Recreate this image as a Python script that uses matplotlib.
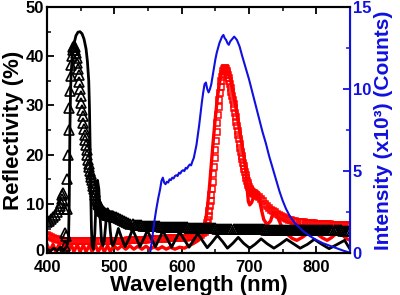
import numpy as np
import matplotlib
matplotlib.use("Agg")
import matplotlib.pyplot as plt
import matplotlib.transforms as mtransforms
from matplotlib.ticker import MultipleLocator

plt.rcParams['font.family'] = ['Liberation Sans', 'DejaVu Sans']
plt.rcParams['font.weight'] = 'bold'

# ---------------- data ----------------
# black open triangles (measured reflectivity, %)
wl_tri = np.concatenate([np.arange(400, 419, 3), np.arange(420, 501, 1), np.arange(503, 851, 3)])
refl_tri = [
    6.4, 6.6, 6.9, 7.3, 7.8, 8.4, 9.0,
    9.5, 10.2, 11.0, 11.8, 12.2, 9.0, 4.0, 1.5, 3.5, 9.0,
    15.0, 20.0, 25.0, 29.5, 33.0, 36.0, 38.3, 40.0, 41.2, 41.8,
    42.0, 41.8, 41.3, 40.6, 39.7, 38.6, 37.4, 36.1, 34.7, 33.3,
    31.9, 30.5, 29.1, 27.8, 26.5, 25.3, 24.1, 23.0, 22.0, 21.0,
    20.0, 19.0, 18.2, 17.4, 16.7, 16.0, 15.4, 14.8, 14.2, 13.6,
    13.0, 12.4, 11.8, 11.3, 10.8, 10.4, 10.0, 9.7, 9.4, 9.2,
    9.0, 8.8, 8.6, 8.5, 8.3, 8.2, 8.1, 8.0, 7.9, 7.8,
    7.8, 7.7, 7.7, 7.6, 7.6, 7.6, 7.5, 7.5, 7.5, 7.4, 7.4,
    7.4, 7.2, 7.0, 6.8, 6.6, 6.4, 6.2, 6.0, 5.9, 5.8,
    5.75, 5.7, 5.65, 5.6, 5.6, 5.55, 5.55, 5.5, 5.5, 5.5,
    5.45, 5.45, 5.4, 5.4, 5.4, 5.4, 5.35, 5.35, 5.35, 5.3,
    5.3, 5.3, 5.3, 5.25, 5.25, 5.25, 5.2, 5.2, 5.2, 5.2,
    5.15, 5.15, 5.15, 5.1, 5.1, 5.1, 5.1, 5.05, 5.05, 5.05,
    5.0, 5.0, 5.0, 5.0, 4.95, 4.95, 4.95, 4.95, 4.9, 4.9,
    4.9, 4.9, 4.9, 4.85, 4.85, 4.85, 4.85, 4.85, 4.8, 4.8,
    4.8, 4.8, 4.8, 4.8, 4.75, 4.75, 4.75, 4.75, 4.75, 4.75,
    4.7, 4.7, 4.7, 4.7, 4.7, 4.7, 4.7, 4.7, 4.7, 4.7,
    4.7, 4.7, 4.7, 4.65, 4.65, 4.65, 4.65, 4.65, 4.65, 4.65,
    4.6, 4.6, 4.6, 4.6, 4.6, 4.6, 4.6, 4.6, 4.6, 4.6,
    4.6, 4.6, 4.55, 4.55, 4.55, 4.55,
]

# black solid line (simulated reflectivity, %)
wl_sim_blue = [400, 405, 410, 415, 420, 425, 430, 432, 433, 434, 435, 436, 438, 440, 443, 446, 449,
               452, 455, 458, 460, 462, 463, 464, 465, 466, 467, 469, 471, 473, 475, 477, 479,
               481, 483, 485, 488, 490, 492, 494, 496, 498, 502, 506, 511, 516, 522, 527, 533,
               538, 544, 549, 555, 561, 567, 572, 579, 585, 591, 597, 604, 611, 617, 624, 631,
               638, 645, 653, 661, 668, 676, 684, 692, 701, 709, 718, 727, 737, 746, 756, 766,
               776, 787, 797, 808, 819, 830, 842, 850]
refl_sim_blue = [0.8, 0.4, 1.0, 0.5, 1.2, 0.6, 1.5, 3.0, 10.0, 25.0, 33.0, 37.0, 40.5, 42.5, 44.2, 44.9, 45.0,
                 44.6, 43.5, 41.5, 39.0, 35.0, 30.0, 22.0, 12.0, 5.0, 1.5, 0.8, 4.0, 11.0, 14.8, 13.0, 7.0,
                 2.5, 1.5, 2.5, 7.0, 9.0, 8.0, 4.5, 2.0, 1.5, 3.0, 5.0, 3.0, 1.3, 3.0, 4.8, 3.0,
                 1.3, 3.0, 4.6, 2.9, 1.3, 3.0, 4.5, 2.8, 1.2, 2.8, 4.3, 2.7, 1.2, 2.5, 4.0, 2.5,
                 1.1, 2.2, 3.6, 2.3, 1.0, 2.0, 3.2, 2.0, 1.0, 1.8, 2.9, 1.9, 1.0, 1.8, 2.8, 1.9,
                 1.0, 1.8, 2.8, 1.8, 0.9, 1.7, 2.6, 0.8]

# red open squares (measured reflectivity, %)
wl_sq = np.concatenate([np.arange(400, 635, 3), np.arange(635, 713, 1), np.arange(715, 851, 3)])
refl_sq = [
    3.6, 3.4, 3.2, 3.0, 2.9, 2.8, 2.7, 2.6, 2.55, 2.5,
    2.4, 2.4, 2.4, 2.4, 2.4, 2.4, 2.4, 2.4, 2.4, 2.4,
    2.4, 2.4, 2.4, 2.4, 2.4, 2.4, 2.4, 2.4, 2.4, 2.4,
    2.5, 2.5, 2.5, 2.5, 2.5, 2.5, 2.5, 2.5, 2.5, 2.5,
    2.7, 2.7, 2.7, 2.7, 2.7, 2.7, 2.7, 2.7, 2.7, 2.7,
    2.9, 2.9, 2.9, 2.9, 2.9, 2.9, 2.9, 2.9, 2.9, 2.9,
    3.1, 3.1, 3.1, 3.1, 3.1, 3.1, 3.1, 3.1, 3.1, 3.1,
    3.2, 3.2, 3.3, 3.3, 3.4, 3.5, 3.7, 4.0, 4.3,
    4.6, 5.0, 5.5, 6.1, 6.8, 7.6, 8.5, 9.5, 10.6, 11.8,
    13.1, 14.5, 16.0, 17.6, 19.3, 21.0, 22.8, 24.6, 26.4, 28.1,
    29.7, 31.2, 32.6, 33.8, 34.9, 35.8, 36.5, 37.0, 37.4, 37.6,
    37.6, 37.4, 37.1, 36.7, 36.2, 35.6, 35.0, 34.3, 33.6, 32.8,
    32.0, 31.2, 30.3, 29.4, 28.5, 27.6, 26.7, 25.8, 24.9, 24.0,
    23.1, 22.2, 21.4, 20.6, 19.8, 19.1, 18.4, 17.7, 17.0, 16.4,
    15.8, 15.2, 14.7, 14.2, 13.8, 13.4, 13.1, 12.8, 12.6, 12.4,
    12.3, 12.2, 12.2, 12.1, 12.0, 11.9, 11.8, 11.6,
    11.4, 11.0, 10.5, 10.0, 9.5, 9.1, 8.8, 8.5, 8.3, 8.0,
    7.8, 7.5, 7.3, 7.1, 6.9, 6.8, 6.7, 6.6, 6.5, 6.4,
    6.35, 6.3, 6.25, 6.2, 6.15, 6.1, 6.1, 6.05, 6.0, 6.0,
    5.95, 5.95, 5.9, 5.9, 5.85, 5.85, 5.8, 5.8, 5.75, 5.75,
    5.7, 5.7, 5.7, 5.65, 5.65, 5.6,
]

# red solid line (simulated reflectivity, %)
wl_sim_red = [400, 404, 409, 413, 418, 422, 427, 431, 436, 440, 445, 449, 454, 458, 463, 467, 472, 476,
              481, 485, 490, 494, 499, 505, 511, 517, 523, 529, 535, 541, 547, 553, 559, 565, 571,
              577, 583, 590, 597, 604, 611, 618, 625, 630, 635, 638, 641, 644, 647, 650, 653, 656,
              659, 662, 665, 668, 671, 674, 677, 680, 683, 686, 689, 692, 695, 697, 699, 701, 704,
              707, 710, 713, 716, 719, 722, 727, 732, 736, 741, 745, 750, 755, 760, 764, 771, 779,
              787, 795, 802, 809, 816, 822, 828, 833, 838, 844, 850]
refl_sim_red = [1.8, 0.3, 1.8, 0.3, 1.8, 0.3, 1.7, 0.3, 1.7, 0.3, 1.7, 0.3, 1.6, 0.3, 1.6, 0.3, 1.6, 0.3,
                1.5, 0.3, 1.5, 0.3, 1.5, 0.8, 1.5, 0.8, 1.5, 0.8, 1.4, 0.8, 1.4, 0.8, 1.3, 0.8, 1.3,
                0.8, 1.2, 0.8, 1.2, 1.0, 1.5, 2.0, 2.6, 3.5, 6.0, 9.0, 13.0, 18.0, 23.0, 27.5, 31.5, 34.5,
                36.5, 37.6, 37.8, 37.3, 36.0, 34.3, 32.2, 30.0, 27.5, 25.0, 22.5, 20.0, 17.0, 13.5, 10.5, 9.8, 10.3,
                11.5, 12.3, 12.2, 10.5, 8.5, 6.8, 5.8, 6.5, 8.3, 7.8, 6.5, 5.0, 4.0, 3.5, 3.0, 2.6, 3.2,
                4.0, 4.3, 3.8, 3.1, 2.6, 3.1, 3.8, 4.1, 3.8, 3.0, 2.6]

# blue line (photoluminescence intensity, x10^3 counts)
wl_pl = [553, 556, 559, 562, 565, 568, 570, 572, 574, 576, 578, 580, 582, 584, 586, 588, 590, 592,
         594, 596, 598, 600, 602, 604, 606, 608, 610, 612, 614, 616, 618, 620, 622, 624, 626, 628,
         630, 632, 634, 636, 638, 640, 642, 644, 646, 648, 650, 652, 654, 656, 658, 660, 662, 664,
         666, 668, 670, 672, 674, 676, 678, 680, 682, 684, 686, 688, 690, 695, 700, 705, 710, 715,
         720, 725, 730, 735, 740, 745, 750, 755, 760, 765, 770, 775, 780, 790, 800, 810, 820, 830,
         840, 848]
pl = [0.0, 0.8, 1.8, 2.6, 3.3, 3.9, 4.4, 4.6, 4.3, 4.2, 4.35, 4.3, 4.5, 4.45, 4.6, 4.55, 4.7, 4.75,
      4.7, 4.9, 4.85, 5.0, 5.05, 5.0, 5.2, 5.15, 5.3, 5.4, 5.35, 5.6, 5.8, 6.2, 6.6, 7.2, 7.8, 8.5,
      9.2, 9.8, 10.3, 10.4, 10.0, 9.8, 10.0, 10.3, 10.8, 11.3, 11.8, 12.2, 12.5, 12.8, 13.0, 13.2, 13.3, 13.1,
      13.0, 12.8, 12.7, 12.9, 13.0, 13.1, 13.2, 13.1, 13.0, 12.8, 12.6, 12.3, 12.0, 11.3, 10.6, 9.8, 9.0, 8.2,
      7.4, 6.7, 5.9, 5.2, 4.5, 3.8, 3.2, 2.7, 2.3, 2.0, 1.75, 1.55, 1.35, 1.05, 0.8, 0.6, 0.45, 0.3,
      0.15, 0.05]

x_ticks = [400, 500, 600, 700, 800]
y_left_ticks = [0, 10, 20, 30, 40, 50]
y_right_ticks = [0, 5, 10, 15]

BLUE = '#1010e0'

# ---------------- figure ----------------
fig = plt.figure(figsize=(4.0, 2.95), dpi=100)
ax = fig.add_axes([0.1175, 0.142, 0.7575, 0.834])
ax2 = ax.twinx()

ax.plot(wl_sq, refl_sq, linestyle='none', marker='s', markersize=5, markerfacecolor='none',
        markeredgecolor='red', markeredgewidth=1.1, zorder=2)
ax.plot(wl_sim_red, refl_sim_red, color='red', linewidth=2.4, zorder=3)
ax.plot(wl_tri, refl_tri, linestyle='none', marker='^', markersize=7, markerfacecolor='none',
        markeredgecolor='black', markeredgewidth=1.2, zorder=4)
ax.plot(wl_sim_blue, refl_sim_blue, color='black', linewidth=2.0, zorder=5)
ax2.plot(wl_pl, pl, color=BLUE, linewidth=1.5)

ax.set_xlim(400, 850)
ax.set_ylim(0, 50)
ax2.set_ylim(0, 15)

ax.set_xticks(x_ticks)
ax.xaxis.set_minor_locator(MultipleLocator(50))
ax.set_yticks(y_left_ticks)
ax.yaxis.set_minor_locator(MultipleLocator(5))
ax2.set_yticks(y_right_ticks)
ax2.yaxis.set_minor_locator(MultipleLocator(2.5))

ax.tick_params(axis='both', which='major', direction='in', length=5, width=1.3, labelsize=12, pad=2)
ax.tick_params(axis='x', which='major', pad=5)
ax.tick_params(axis='both', which='minor', direction='in', length=3, width=1.1)
ax.tick_params(axis='x', which='both', top=True)
ax2.tick_params(axis='y', which='major', direction='in', length=5, width=1.3, labelsize=12,
                colors=BLUE, pad=2)
ax2.tick_params(axis='y', which='minor', direction='in', length=3, width=1.1, colors=BLUE)

for lab in ax.get_xticklabels() + ax.get_yticklabels() + ax2.get_yticklabels():
    lab.set_fontweight('bold')

# lift only the bottom "0" label a little so it clears the "400" below it
lift = mtransforms.ScaledTranslation(0, 3 / 100, fig.dpi_scale_trans)
zero_lab = ax.get_yticklabels()[0]
zero_lab.set_transform(zero_lab.get_transform() + lift)

for s in ['left', 'bottom', 'top']:
    ax.spines[s].set_linewidth(1.5)
    ax2.spines[s].set_linewidth(1.5)
ax2.spines['right'].set_color(BLUE)
ax2.spines['right'].set_linewidth(1.5)

ax.set_xlabel('Wavelength (nm)', fontsize=16, fontweight='bold', labelpad=0)
ax.set_ylabel('Reflectivity (%)', fontsize=16, fontweight='bold', labelpad=1)
ax2.set_ylabel('Intensity (x10³) (Counts)', fontsize=15, fontweight='bold', color=BLUE, labelpad=2)

fig.savefig('out.png', dpi=100)
